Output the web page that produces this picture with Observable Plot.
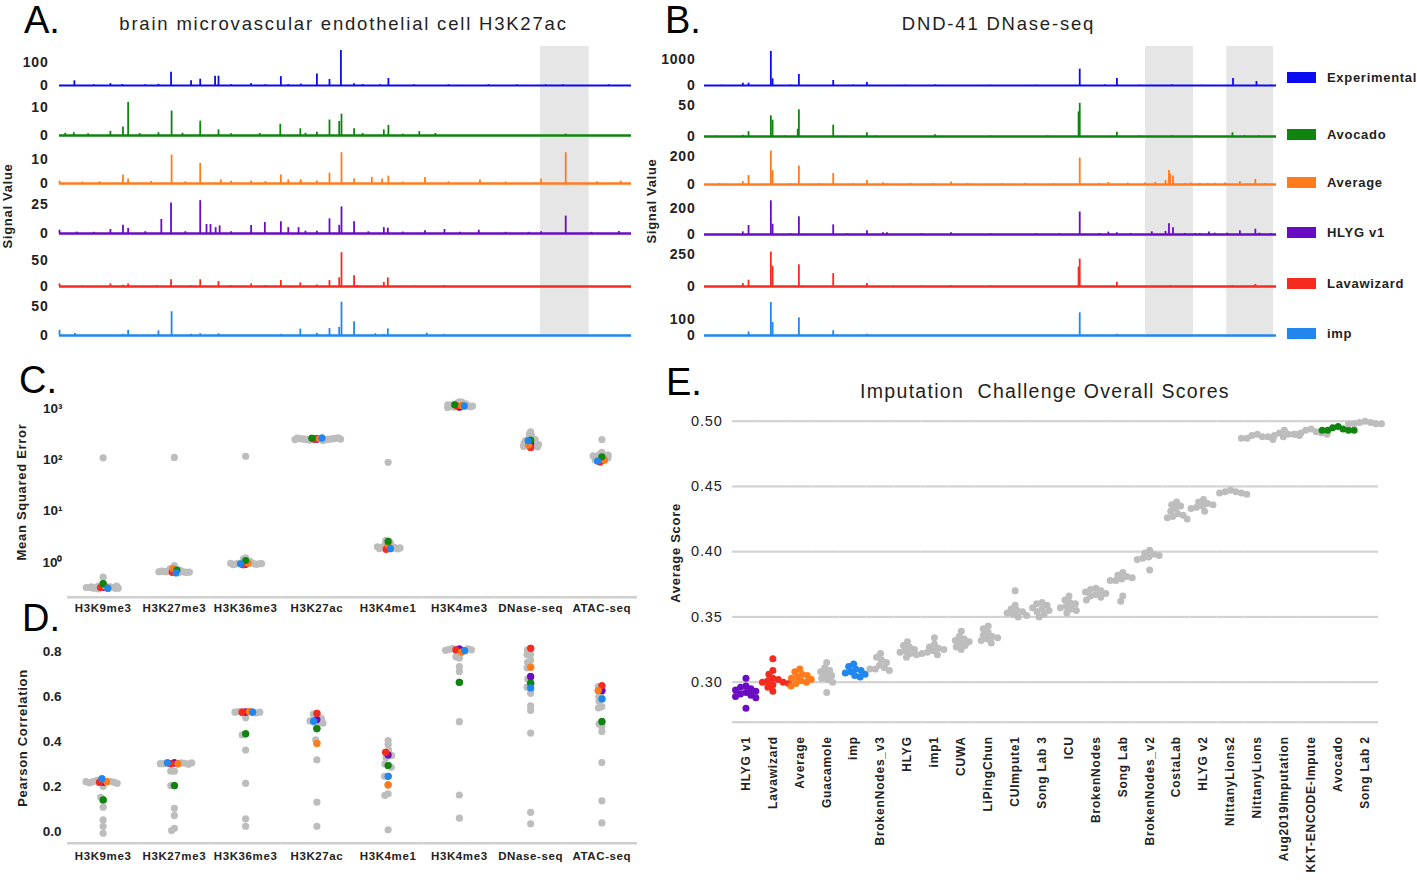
<!DOCTYPE html>
<html><head><meta charset="utf-8">
<script src="https://cdn.jsdelivr.net/npm/d3@7"></script>
<script src="https://cdn.jsdelivr.net/npm/@observablehq/plot@0.6"></script>
<style>
body{margin:0;background:#fff;}
#fig{position:relative;width:1417px;height:880px;overflow:hidden;font-family:Arial,"Liberation Sans",sans-serif;color:#222;background:#fff;}
</style></head><body><div id="fig"></div>
<script>
// ---------------- DATA ----------------
const trackNames = ["Experimental","Avocado","Average","HLYG v1","Lavawizard","imp"];
const trackColors = ["#0b0bef","#0f850f","#ff7b1c","#6a0cc4","#f52b1f","#2187ee"];

// Panel A: brain microvascular endothelial cell H3K27ac, peaks as [position (0-1000), signal]
const aTicks = [100, 10, 10, 25, 50, 50];
const aBands = [[841, 926]];
const aExperimental = [[26,20],[89,8],[110,4],[173,5],[195,57],[230,20],[246,27],[272,40],[278,40],[335,8],[387,38],[422,6],[450,49],[472,26],[492,150],[515,8],[575,30],
  [60,3],[150,3],[300,3],[360,3],[400,4],[530,4],[560,3],[620,3],[680,3],[750,3],[800,2],[850,3],[880,3],[960,3]];
const aAvocado = [[25,1],[89,1.5],[111,3],[120,11.8],[173,1],[196,8.7],[246,5.1],[278,2],[386,4],[421,2.4],[450,1.2],[472,5.5],[489,5],[493,7.6],[515,2.4],[567,2],[575,3.6],[629,1.4],[657,0.7],[885,0.5],
  [10,0.8],[50,0.6],[140,0.7],[215,0.8],[300,0.6],[350,0.7],[430,0.8],[530,0.7],[600,0.5]];
const aAverage = [[0,1],[111,3.5],[120,1.8],[196,11.6],[246,8.2],[282,1.5],[335,1],[387,3.5],[400,1.5],[422,1.5],[450,1],[472,4.2],[493,12.6],[515,1.8],[546,2.5],[564,1.8],[575,3],[639,2.5],[735,1.4],[842,1.8],[885,12.6],[981,1],
  [40,0.6],[70,0.7],[160,0.8],[220,0.7],[300,0.9],[360,0.8],[420,0.6],[600,0.6],[680,0.7],[780,0.6],[940,0.7]];
const aHLYG = [[0,2.8],[89,3.4],[111,7],[120,4.3],[178,12],[195,26],[246,28],[257,7.7],[264,7.7],[273,5],[280,6.5],[335,6.8],[359,9.4],[387,10],[400,5],[418,5],[450,2],[472,12.5],[489,7],[493,22.7],[515,10],[567,5],[574,4.5],[639,2.3],[673,3.4],[733,2.8],[842,1.5],[885,14.8],[978,1.7],
  [30,1.2],[60,1],[150,1.5],[220,1.5],[300,1.5],[430,2],[540,1.5],[600,1.2],[700,1],[780,1],[820,1],[930,1]];
const aLavawizard = [[0,5],[89,5],[111,2.5],[120,5],[195,13],[246,13],[278,9.6],[335,5],[387,11.5],[421,7],[450,3],[472,11.5],[489,16.6],[493,65],[515,20.5],[567,7.7],[574,16.6],[673,2],
  [40,1],[170,2],[230,1.5],[300,1.5],[360,1.5],[520,1.5],[620,1]];
const aImp = [[0,9],[27,3.5],[111,2],[120,9],[173,8],[196,41],[230,2],[246,3],[278,3],[387,2],[421,11],[450,4],[472,12],[489,14],[493,57.5],[515,23.6],[552,3],[567,2],[574,11.5],[642,4],[673,2]];

// Panel B: DND-41 DNase-seq
const bTicks = [1000, 50, 200, 200, 250, 100];
const bBands = [[771, 855], [913, 995]];
const bExperimental = [[67,90],[77,90],[116,1326],[119,260],[165,430],[225,195],[284,117],[403,20],[656,637],[721,273],[817,20],[924,273],[965,156],
  [30,10],[150,15],[260,15],[350,10],[500,10],[580,10],[700,15],[760,10],[870,10],[990,10]];
const bAvocado = [[67,2],[77,8],[116,33.7],[119,26.6],[163,12],[165,43.5],[225,18.5],[284,6],[403,2.7],[654,40],[656,54],[721,7],[817,1.5],[923,6],[944,1.5],
  [20,0.8],[140,1],[300,1],[500,0.8],[600,1],[760,1],[860,1],[970,1]];
const bAverage = [[67,21],[77,64],[116,238],[119,100],[165,131],[225,78],[284,28],[312,12],[431,17],[656,188],[706,14],[788,14],[806,28],[812,100],[814,76],[819,60],[840,8],[866,8],[892,8],[936,21],[963,36],
  [26,8],[150,6],[200,8],[260,6],[320,6],[360,8],[400,6],[460,8],[520,6],[560,8],[610,6],[690,8],[740,10],[770,10],[850,10],[880,8],[910,10],[980,8]];
const bHLYG = [[67,20],[77,68],[116,255],[119,78],[165,134],[225,73],[284,28],[312,13],[319,13],[431,13],[656,170],[706,18],[721,13],[745,8],[782,20],[806,23],[812,81],[819,51],[840,8],[858,8],[866,8],[882,18],[892,10],[914,10],[936,28],[963,40],[970,10],
  [150,6],[250,6],[380,6],[500,6],[580,6],[620,6],[690,8],[990,6]];
const bLavawizard = [[67,23],[77,49],[116,266],[119,157],[165,168],[225,100],[284,23],[654,150],[656,212],[721,33],[814,5],[923,5],[963,15],
  [170,4],[330,4],[380,4],[431,5],[500,4]];
const bImp = [[77,22],[116,202],[119,80],[165,108],[225,29],[284,8],[656,139],[721,8]];

// Panels C and D
const categories = ["H3K9me3","H3K27me3","H3K36me3","H3K27ac","H3K4me1","H3K4me3","DNase-seq","ATAC-seq"];
const highlightTeams = ["HLYG v1","Lavawizard","Average","Avocado","imp"];
const teamColors = ["#6a0cc4","#f52b1f","#ff7b1c","#0f850f","#2187ee"];
const grayDot = "#bdbdbd";

// Mean squared error: highlighted teams (order of highlightTeams) and the other teams
const cColored = [
  [0.32, 0.32, 0.33, 0.38, 0.31],
  [0.68, 0.64, 0.75, 0.70, 0.62],
  [0.92, 0.90, 0.95, 1.08, 0.93],
  [258, 255, 262, 265, 268],
  [1.95, 1.80, 2.20, 2.55, 1.84],
  [1090, 1130, 1150, 1200, 1140],
  [209, 175, 195, 243, 236],
  [100, 92, 100, 115, 95]
];
const cGray = [
  [110, 0.51, 0.34, 0.33, 0.32, 0.32, 0.31, 0.31, 0.33, 0.32, 0.34, 0.31, 0.30, 0.32],
  [112, 0.86, 0.75, 0.70, 0.68, 0.66, 0.65, 0.64, 0.66, 0.63, 0.67, 0.64, 0.65, 0.62],
  [118, 1.22, 1.15, 1.05, 0.98, 0.95, 0.93, 0.92, 0.91, 0.90, 0.93, 0.95, 0.94],
  [240, 245, 248, 250, 252, 255, 256, 258, 260, 262, 265, 268, 270, 250, 255],
  [90, 2.66, 2.4, 2.25, 2.1, 2.05, 2.0, 1.95, 1.9, 1.85, 1.82, 2.0, 1.9],
  [1370, 1300, 1250, 1200, 1150, 1120, 1100, 1080, 1060, 1200, 1130, 1350],
  [355, 320, 300, 280, 260, 250, 240, 230, 215, 200, 195, 190, 185, 180, 200, 210],
  [251, 140, 130, 125, 120, 118, 115, 110, 105, 100, 125, 120]
];
const cTicks = [1, 10, 100, 1000];

// Pearson correlation
const dColored = [
  [0.218, 0.218, 0.220, 0.139, 0.233],
  [0.304, 0.300, 0.300, 0.203, 0.304],
  [0.529, 0.529, 0.532, 0.433, 0.529],
  [0.496, 0.524, 0.391, 0.456, 0.489],
  [0.339, 0.351, 0.206, 0.292, 0.244],
  [0.809, 0.806, 0.796, 0.662, 0.803],
  [0.687, 0.813, 0.729, 0.658, 0.637],
  [0.625, 0.646, 0.625, 0.487, 0.588]
];
const dGray = [
  [0.225, 0.222, 0.220, 0.218, 0.215, 0.213, 0.220, 0.199, 0.151, 0.107, 0.050, 0.022, -0.009],
  [0.304, 0.302, 0.300, 0.300, 0.298, 0.304, 0.267, 0.267, 0.203, 0.102, 0.070, 0.013, 0.003],
  [0.532, 0.529, 0.526, 0.529, 0.504, 0.428, 0.361, 0.213, 0.055, 0.022],
  [0.520, 0.510, 0.500, 0.490, 0.485, 0.480, 0.478, 0.406, 0.317, 0.129, 0.022],
  [0.403, 0.385, 0.361, 0.336, 0.326, 0.299, 0.284, 0.244, 0.166, 0.159, 0.006],
  [0.812, 0.810, 0.808, 0.806, 0.804, 0.770, 0.775, 0.732, 0.710, 0.487, 0.161, 0.058],
  [0.806, 0.785, 0.785, 0.759, 0.751, 0.726, 0.677, 0.640, 0.613, 0.557, 0.536, 0.436, 0.084, 0.033],
  [0.643, 0.610, 0.596, 0.578, 0.554, 0.548, 0.477, 0.465, 0.443, 0.305, 0.135, 0.037]
];
const dTicks = [0, 0.2, 0.4, 0.6, 0.8];

// Panel E: Imputation Challenge overall scores
const eTeams = ["HLYG v1","Lavawizard","Average","Guacamole","imp","BrokenNodes_v3","HLYG","imp1","CUWA","LiPingChun","CUImpute1","Song Lab 3","ICU","BrokenNodes","Song Lab","BrokenNodes_v2","CostaLab","HLYG v2","NittanyLions2","NittanyLions","Aug2019Imputation","KKT-ENCODE-Impute","Avocado","Song Lab 2"];
const eScores = [
  [0.303, 0.297, 0.296, 0.295, 0.294, 0.293, 0.292, 0.291, 0.290, 0.289, 0.288, 0.280],
  [0.318, 0.309, 0.306, 0.303, 0.302, 0.301, 0.300, 0.300, 0.299, 0.298, 0.296, 0.293],
  [0.310, 0.308, 0.306, 0.305, 0.304, 0.303, 0.302, 0.301, 0.300, 0.299, 0.297],
  [0.315, 0.311, 0.309, 0.308, 0.306, 0.305, 0.303, 0.302, 0.300, 0.292],
  [0.314, 0.312, 0.310, 0.309, 0.308, 0.307, 0.306, 0.305, 0.304],
  [0.322, 0.319, 0.317, 0.315, 0.313, 0.311, 0.310, 0.309, 0.310],
  [0.331, 0.328, 0.327, 0.325, 0.324, 0.323, 0.322, 0.321, 0.319],
  [0.334, 0.329, 0.327, 0.326, 0.325, 0.324, 0.323, 0.322, 0.321],
  [0.339, 0.335, 0.333, 0.332, 0.331, 0.330, 0.328, 0.327, 0.325],
  [0.343, 0.341, 0.338, 0.336, 0.335, 0.334, 0.333, 0.332, 0.330],
  [0.370, 0.359, 0.356, 0.355, 0.354, 0.353, 0.352, 0.351, 0.350],
  [0.361, 0.360, 0.359, 0.357, 0.356, 0.355, 0.354, 0.352, 0.350],
  [0.366, 0.363, 0.361, 0.360, 0.358, 0.357, 0.356, 0.355, 0.353],
  [0.372, 0.371, 0.370, 0.369, 0.368, 0.367, 0.366, 0.365, 0.363],
  [0.384, 0.382, 0.381, 0.380, 0.379, 0.378, 0.378, 0.366, 0.362],
  [0.401, 0.399, 0.398, 0.397, 0.396, 0.395, 0.394, 0.386],
  [0.438, 0.436, 0.435, 0.433, 0.431, 0.429, 0.428, 0.427, 0.426, 0.425],
  [0.440, 0.438, 0.437, 0.436, 0.435, 0.434, 0.433, 0.431],
  [0.447, 0.446, 0.446, 0.445, 0.445, 0.444],
  [0.490, 0.489, 0.488, 0.488, 0.487, 0.487, 0.486],
  [0.493, 0.491, 0.490, 0.490, 0.489, 0.489, 0.488],
  [0.494, 0.493, 0.492, 0.491, 0.491, 0.490, 0.490],
  [0.496, 0.495, 0.494, 0.493, 0.493, 0.493, 0.493],
  [0.500, 0.499, 0.499, 0.498, 0.498, 0.498, 0.498]
];
const eTicks = [0.30, 0.35, 0.40, 0.45, 0.50];

// ---------------- LAYOUT ----------------
const FONT = 'Arial, "Liberation Sans", sans-serif';
const fig = document.getElementById("fig");
function place(el, left, top) {
  el.style.position = "absolute";
  el.style.left = left + "px";
  el.style.top = top + "px";
  fig.appendChild(el);
  return el;
}
function label(str, x, y, css, mode) {
  const d = document.createElement("div");
  d.textContent = str;
  d.style.cssText = "position:absolute;white-space:nowrap;line-height:1;font-family:" + FONT + ";" + css;
  d.style.left = x + "px"; d.style.top = y + "px";
  d.style.transform = mode === "rot" ? "translate(-50%,-50%) rotate(-90deg)" :
                      mode === "left" ? "translate(0,-50%)" : "translate(-50%,-50%)";
  fig.appendChild(d);
}
const baseStyle = (extra) => Object.assign({background: "transparent", overflow: "visible", fontFamily: FONT, color: "#222"}, extra);

const panelA = {left: 0, width: 640, ml: 59, mr: 9, tp: 11, top: 46, bottom: 336,
  baselines: [85, 135.3, 183.3, 233.3, 286, 334.7], ymax: [188.8, 15.7, 18, 37.5, 84.6, 75.9]};
const panelB = {left: 640, width: 777, ml: 64, mr: 141, tp: 9, top: 46, bottom: 337,
  baselines: [84.5, 135.7, 184, 233.7, 286.3, 334.7], ymax: [1712, 71.7, 314, 333, 340, 270]};

function drawBands(bands, cfg) {
  const svg = Plot.plot({
    width: cfg.width, height: cfg.bottom - cfg.top,
    marginLeft: cfg.ml, marginRight: cfg.mr, marginTop: 0, marginBottom: 0,
    x: {domain: [0, 1000], axis: null},
    style: baseStyle({}),
    marks: [Plot.rect(bands, {x1: d => d[0], x2: d => d[1], fill: "#e6e6e6"})]
  });
  place(svg, cfg.left, cfg.top);
}
function drawTrack(peaks, color, tick, cfg, i) {
  const Ht = 44, mb = 4;
  const svg = Plot.plot({
    width: cfg.width, height: Ht + mb,
    marginLeft: cfg.ml, marginRight: cfg.mr, marginTop: 0, marginBottom: mb,
    x: {domain: [0, 1000], axis: null},
    y: {domain: [0, cfg.ymax[i]], ticks: [0, tick], tickFormat: "d", tickSize: 0, tickPadding: cfg.tp, label: null},
    style: baseStyle({fontSize: "14px", fontWeight: "bold", letterSpacing: "0.8px"}),
    marks: [
      Plot.ruleY([0], {stroke: color, strokeWidth: i === 0 ? 1.8 : 2.6}),
      Plot.ruleX(peaks, {x: d => d[0], y1: 0, y2: d => d[1], stroke: color, strokeWidth: 1.8})
    ]
  });
  place(svg, cfg.left, cfg.baselines[i] - Ht);
}

drawBands(aBands, panelA);
drawBands(bBands, panelB);
[aExperimental, aAvocado, aAverage, aHLYG, aLavawizard, aImp].forEach((p, i) => drawTrack(p, trackColors[i], aTicks[i], panelA, i));
[bExperimental, bAvocado, bAverage, bHLYG, bLavawizard, bImp].forEach((p, i) => drawTrack(p, trackColors[i], bTicks[i], panelB, i));

// legend (panel B)
const legendY = [77.3, 134, 182.3, 231.7, 283.3, 332.7];
trackNames.forEach((n, i) => {
  const sw = document.createElement("div");
  sw.style.cssText = `position:absolute;left:1287px;top:${legendY[i] - 5}px;width:29px;height:11px;background:${trackColors[i]};`;
  fig.appendChild(sw);
  label(n, 1327, legendY[i], "font-size:13px;font-weight:bold;letter-spacing:0.7px;color:#222;", "left");
});

// ---------- C and D ----------
function dotRows(colored, gray) {
  const rows = [];
  categories.forEach((c, i) => {
    colored[i].forEach((v, j) => rows.push({cat: c, value: v, team: highlightTeams[j]}));
    gray[i].forEach(v => rows.push({cat: c, value: v, team: "other"}));
  });
  return rows;
}
const colorScale = {domain: [...highlightTeams, "other"], range: [...teamColors, grayDot]};
function fixAxes(svg, ySize, yWeight, xSize, xWeight, xLs) {
  d3.select(svg).selectAll('[aria-label^="y-axis"] text').style("font-size", ySize).style("font-weight", yWeight);
  d3.select(svg).selectAll('[aria-label^="fx-axis"] text').style("font-size", xSize).style("font-weight", xWeight).style("letter-spacing", xLs);
}
// beeswarm: all dots placed together, then the highlighted ones drawn again on top (same placement)
function swarm(rows, dodgeR) {
  const opts = (extra) => Plot.dodgeX({anchor: "middle", padding: 0, r: dodgeR}, Object.assign({y: "value", fill: "team", r: 3.6}, extra));
  return [
    Plot.dot(rows, opts({})),
    Plot.dot(rows, opts({fillOpacity: d => d.team === "other" ? 0 : 1}))
  ];
}

const supers = {"0": "\u2070", "1": "\u00b9", "2": "\u00b2", "3": "\u00b3"};
const cRows = dotRows(cColored, cGray);
const cMin = 0.2068, cMax = 2495;
const cPlot = Plot.plot({
  width: 640, height: 260,
  marginLeft: 67, marginRight: 3, marginTop: 28, marginBottom: 23.3,
  facet: {data: cRows, x: "cat"},
  fx: {domain: categories, padding: 0, round: false, axis: "bottom", tickSize: 0, tickPadding: 7, label: null},
  y: {type: "log", domain: [cMin, cMax], ticks: cTicks, tickFormat: d => "10" + supers[String(Math.round(Math.log10(d)))], tickSize: 0, tickPadding: 5, label: null},
  color: colorScale,
  style: baseStyle({fontSize: "12px", fontWeight: "bold"}),
  marks: [
    Plot.ruleY([cMin], {stroke: "#cfcfcf", strokeWidth: 2.5}),
    ...swarm(cRows, 1.3)
  ]
});
place(cPlot, 0, 360);
fixAxes(cPlot, "13.5px", "bold", "11.5px", "bold", "0.6px");

const dRows = dotRows(dColored, dGray);
const dMin = -0.0533, dMax = 0.892;
const dPlot = Plot.plot({
  width: 640, height: 280,
  marginLeft: 67, marginRight: 3, marginTop: 30, marginBottom: 37.3,
  facet: {data: dRows, x: "cat"},
  fx: {domain: categories, padding: 0, round: false, axis: "bottom", tickSize: 0, tickPadding: 9, label: null},
  y: {domain: [dMin, dMax], ticks: dTicks, tickFormat: ".1f", tickSize: 0, tickPadding: 6, label: null},
  color: colorScale,
  style: baseStyle({fontSize: "12px", fontWeight: "bold"}),
  marks: [
    Plot.ruleY([dMin], {stroke: "#cfcfcf", strokeWidth: 2.5}),
    ...swarm(dRows, 1.8)
  ]
});
place(dPlot, 0, 600);
fixAxes(dPlot, "13.5px", "bold", "11.5px", "bold", "0.6px");

// ---------- E ----------
const eRows = eTeams.flatMap((t, i) => eScores[i].map(v => ({team: t, value: v, group: highlightTeams.includes(t) ? t : "other"})));
const eMin = 0.2693, eMax = 0.5;
const ePlot = Plot.plot({
  width: 777, height: 500,
  marginLeft: 92, marginRight: 39, marginTop: 40.7, marginBottom: 158.3,
  facet: {data: eRows, x: "team"},
  fx: {domain: eTeams, padding: 0, round: false, axis: "bottom", tickSize: 0, tickPadding: 14, tickRotate: -90, label: null},
  y: {domain: [eMin, eMax], ticks: eTicks, tickFormat: ".2f", tickSize: 0, tickPadding: 10, label: null},
  color: colorScale,
  style: baseStyle({fontSize: "14.5px"}),
  marks: [
    Plot.ruleY(eTicks, {stroke: "#d2d2d2", strokeWidth: 2.2}),
    Plot.ruleY([eMin], {stroke: "#d2d2d2", strokeWidth: 2.2}),
    Plot.dot(eRows, Plot.dodgeX({anchor: "middle", padding: 0, r: 2.8}, {y: "value", fill: "group", r: 3.5}))
  ]
});
place(ePlot, 640, 380);
fixAxes(ePlot, "14.5px", "normal", "12px", "bold", "0.8px");
d3.select(ePlot).selectAll('[aria-label^="y-axis"] text').style("letter-spacing", "0.8px");

// ---------- text ----------
const letterCss = "font-size:38px;color:#000;";
label("A.", 24, 19.5, letterCss, "left");
label("B.", 665, 19.5, letterCss, "left");
label("C.", 19, 380, letterCss, "left");
label("D.", 22, 618, letterCss, "left");
label("E.", 666, 381.5, letterCss, "left");
const titleCss = "font-size:18.5px;letter-spacing:1.8px;color:#222;";
label("brain microvascular endothelial cell H3K27ac", 343.5, 24, titleCss);
label("DND-41 DNase-seq", 998.5, 24, titleCss);
label("Imputation  Challenge Overall Scores", 1045, 392, "font-size:19.5px;letter-spacing:1.3px;color:#222;white-space:pre;");
const axCss = "font-size:13px;font-weight:bold;letter-spacing:0.7px;color:#222;";
label("Signal Value", 6.5, 206, axCss, "rot");
label("Signal Value", 651, 201, axCss, "rot");
label("Mean Squared Error", 21, 492, axCss, "rot");
label("Pearson Correlation", 21.5, 738, axCss, "rot");
label("Average Score", 674.5, 552.5, axCss, "rot");
</script></body></html>
